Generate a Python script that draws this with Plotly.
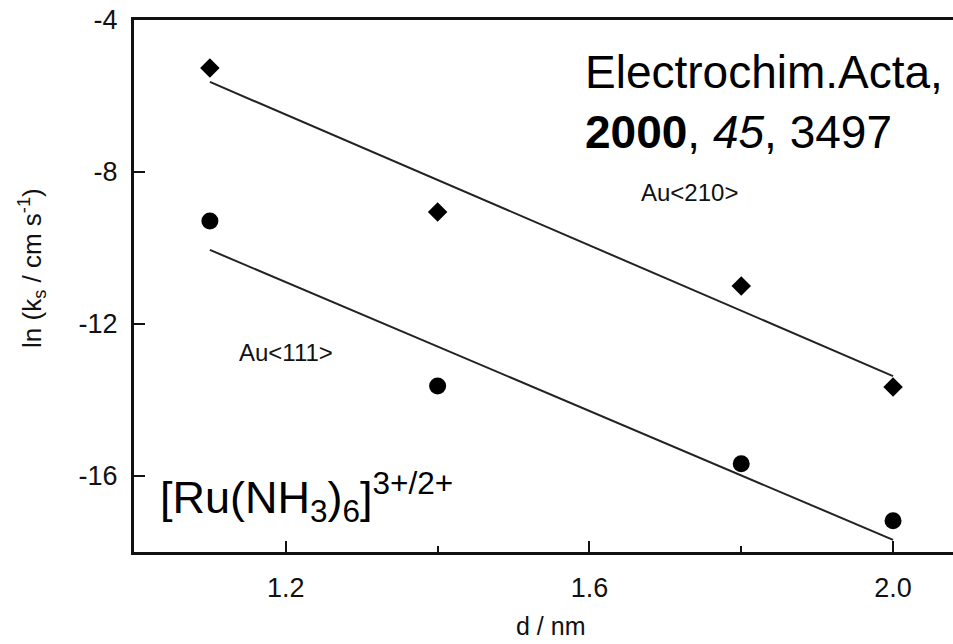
import plotly.graph_objects as go

# Data
d_nm = [1.1, 1.4, 1.8, 2.0]
ln_k_au210 = [-5.26, -9.05, -11.0, -13.66]
ln_k_au111 = [-9.29, -13.63, -15.68, -17.18]

fit_x = [1.1, 2.0]
fit_au210 = [-5.63, -13.37]
fit_au111 = [-10.05, -17.68]

x_ticks = [1.2, 1.6, 2.0]
x_tick_labels = ["1.2", "1.6", "2.0"]
y_ticks = [-4, -8, -12, -16]
y_tick_labels = ["-4", "-8", "-12", "-16"]

FONT = "Arial, Liberation Sans, Helvetica, sans-serif"

fig = go.Figure()
fig.add_trace(go.Scatter(x=fit_x, y=fit_au210, mode="lines",
                         line=dict(color="#222", width=2), showlegend=False))
fig.add_trace(go.Scatter(x=fit_x, y=fit_au111, mode="lines",
                         line=dict(color="#222", width=2), showlegend=False))
fig.add_trace(go.Scatter(x=d_nm, y=ln_k_au210, mode="markers",
                         marker=dict(symbol="diamond", size=15, color="black"),
                         showlegend=False))
fig.add_trace(go.Scatter(x=d_nm, y=ln_k_au111, mode="markers",
                         marker=dict(symbol="circle", size=17, color="black"),
                         showlegend=False))

fig.update_layout(
    width=953, height=644,
    margin=dict(l=134, r=0, t=20, b=92),
    paper_bgcolor="white", plot_bgcolor="white",
    font=dict(family=FONT, color="black"),
    xaxis=dict(range=[1.0, 2.079], tickvals=x_ticks, ticktext=x_tick_labels,
               ticks="inside", ticklen=11, tickwidth=2, tickcolor="#111",
               showline=True, linecolor="#111", linewidth=3, mirror=True,
               showgrid=False, zeroline=False, ticklabelstandoff=10,
               tickfont=dict(size=27, family=FONT, color="#111"),
               minor=dict(tickvals=[1.4, 1.8], ticks="inside", ticklen=6,
                          tickwidth=1.5, tickcolor="#111")),
    yaxis=dict(range=[-18, -4], tickvals=y_ticks, ticktext=y_tick_labels,
               ticks="inside", ticklen=11, tickwidth=2, tickcolor="#111",
               showline=True, linecolor="#111", linewidth=3, mirror=False,
               showgrid=False, zeroline=False, ticklabelstandoff=8,
               tickfont=dict(size=27, family=FONT, color="#111")),
)

# Axis titles (paper coordinates)
fig.add_annotation(x=-0.1245, y=0.534, xref="paper", yref="paper", showarrow=False,
                   xanchor="center", yanchor="middle",
                   text="ln (k<sub>s</sub> / cm s<sup>-1</sup>)", textangle=-90,
                   font=dict(size=26, family=FONT, color="#111"))
fig.add_annotation(x=0.508, y=-0.139, xref="paper", yref="paper", showarrow=False,
                   xanchor="center", yanchor="middle", text="d / nm",
                   font=dict(size=25, family=FONT, color="#111"))

fig.add_annotation(x=1.591, y=-6.16, xref="x", yref="y", xanchor="left", yanchor="middle",
                   text="Electrochim.Acta,<br><b>2000</b>, <i>45</i>, 3497",
                   showarrow=False, align="left",
                   font=dict(size=46, family=FONT, color="black"))
fig.add_annotation(x=1.665, y=-8.55, xref="x", yref="y", xanchor="left",
                   text="Au&lt;210&gt;", showarrow=False,
                   font=dict(size=24, family=FONT, color="#111"))
fig.add_annotation(x=1.136, y=-12.74, xref="x", yref="y", xanchor="left",
                   text="Au&lt;111&gt;", showarrow=False,
                   font=dict(size=24, family=FONT, color="#111"))
fig.add_annotation(x=1.032, y=-16.55, xref="x", yref="y", xanchor="left",
                   text="[Ru(NH<sub>3</sub>)<sub>6</sub>]<sup>3+/2+</sup>", showarrow=False,
                   font=dict(size=45, family=FONT, color="black"))

fig.write_html("out.html")
